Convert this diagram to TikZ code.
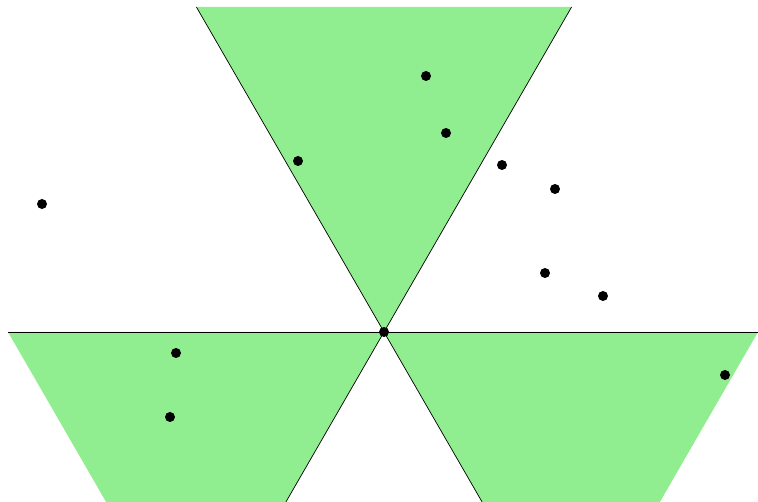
\documentclass[tikz,border=0pt]{standalone}
\usepackage{tikz}
\definecolor{sectorgreen}{HTML}{90EE90}

\begin{document}
\begin{tikzpicture}[x=0.02cm, y=-0.02cm]
  \useasboundingbox (0,0) rectangle (758,502);

  % === Shaded sectors ===
  \fill[sectorgreen] (196.4,7) -- (571.6,7) -- (384,332) -- cycle;
  \fill[sectorgreen] (8,332) -- (384,332) -- (285.9,502) -- (106.1,502) -- cycle;
  \fill[sectorgreen] (384,332) -- (758,332) -- (659.9,502) -- (482.1,502) -- cycle;

  % === Lines through the origin ===
  \coordinate (O) at (384,332);
  \draw[thin] (8,332) -- (758,332);
  \draw[thin] (196.4,7) -- (O) -- (482.1,502);
  \draw[thin] (571.6,7) -- (O) -- (285.9,502);

  % === Points ===
  \foreach \px/\py in {42/204, 298/161, 426/76, 446/133, 502/165, 555/189,
                       545/273, 603/296, 176/353, 170/417, 725/375, 384/332}
    \fill (\px,\py) circle (5);

\end{tikzpicture}
\end{document}
